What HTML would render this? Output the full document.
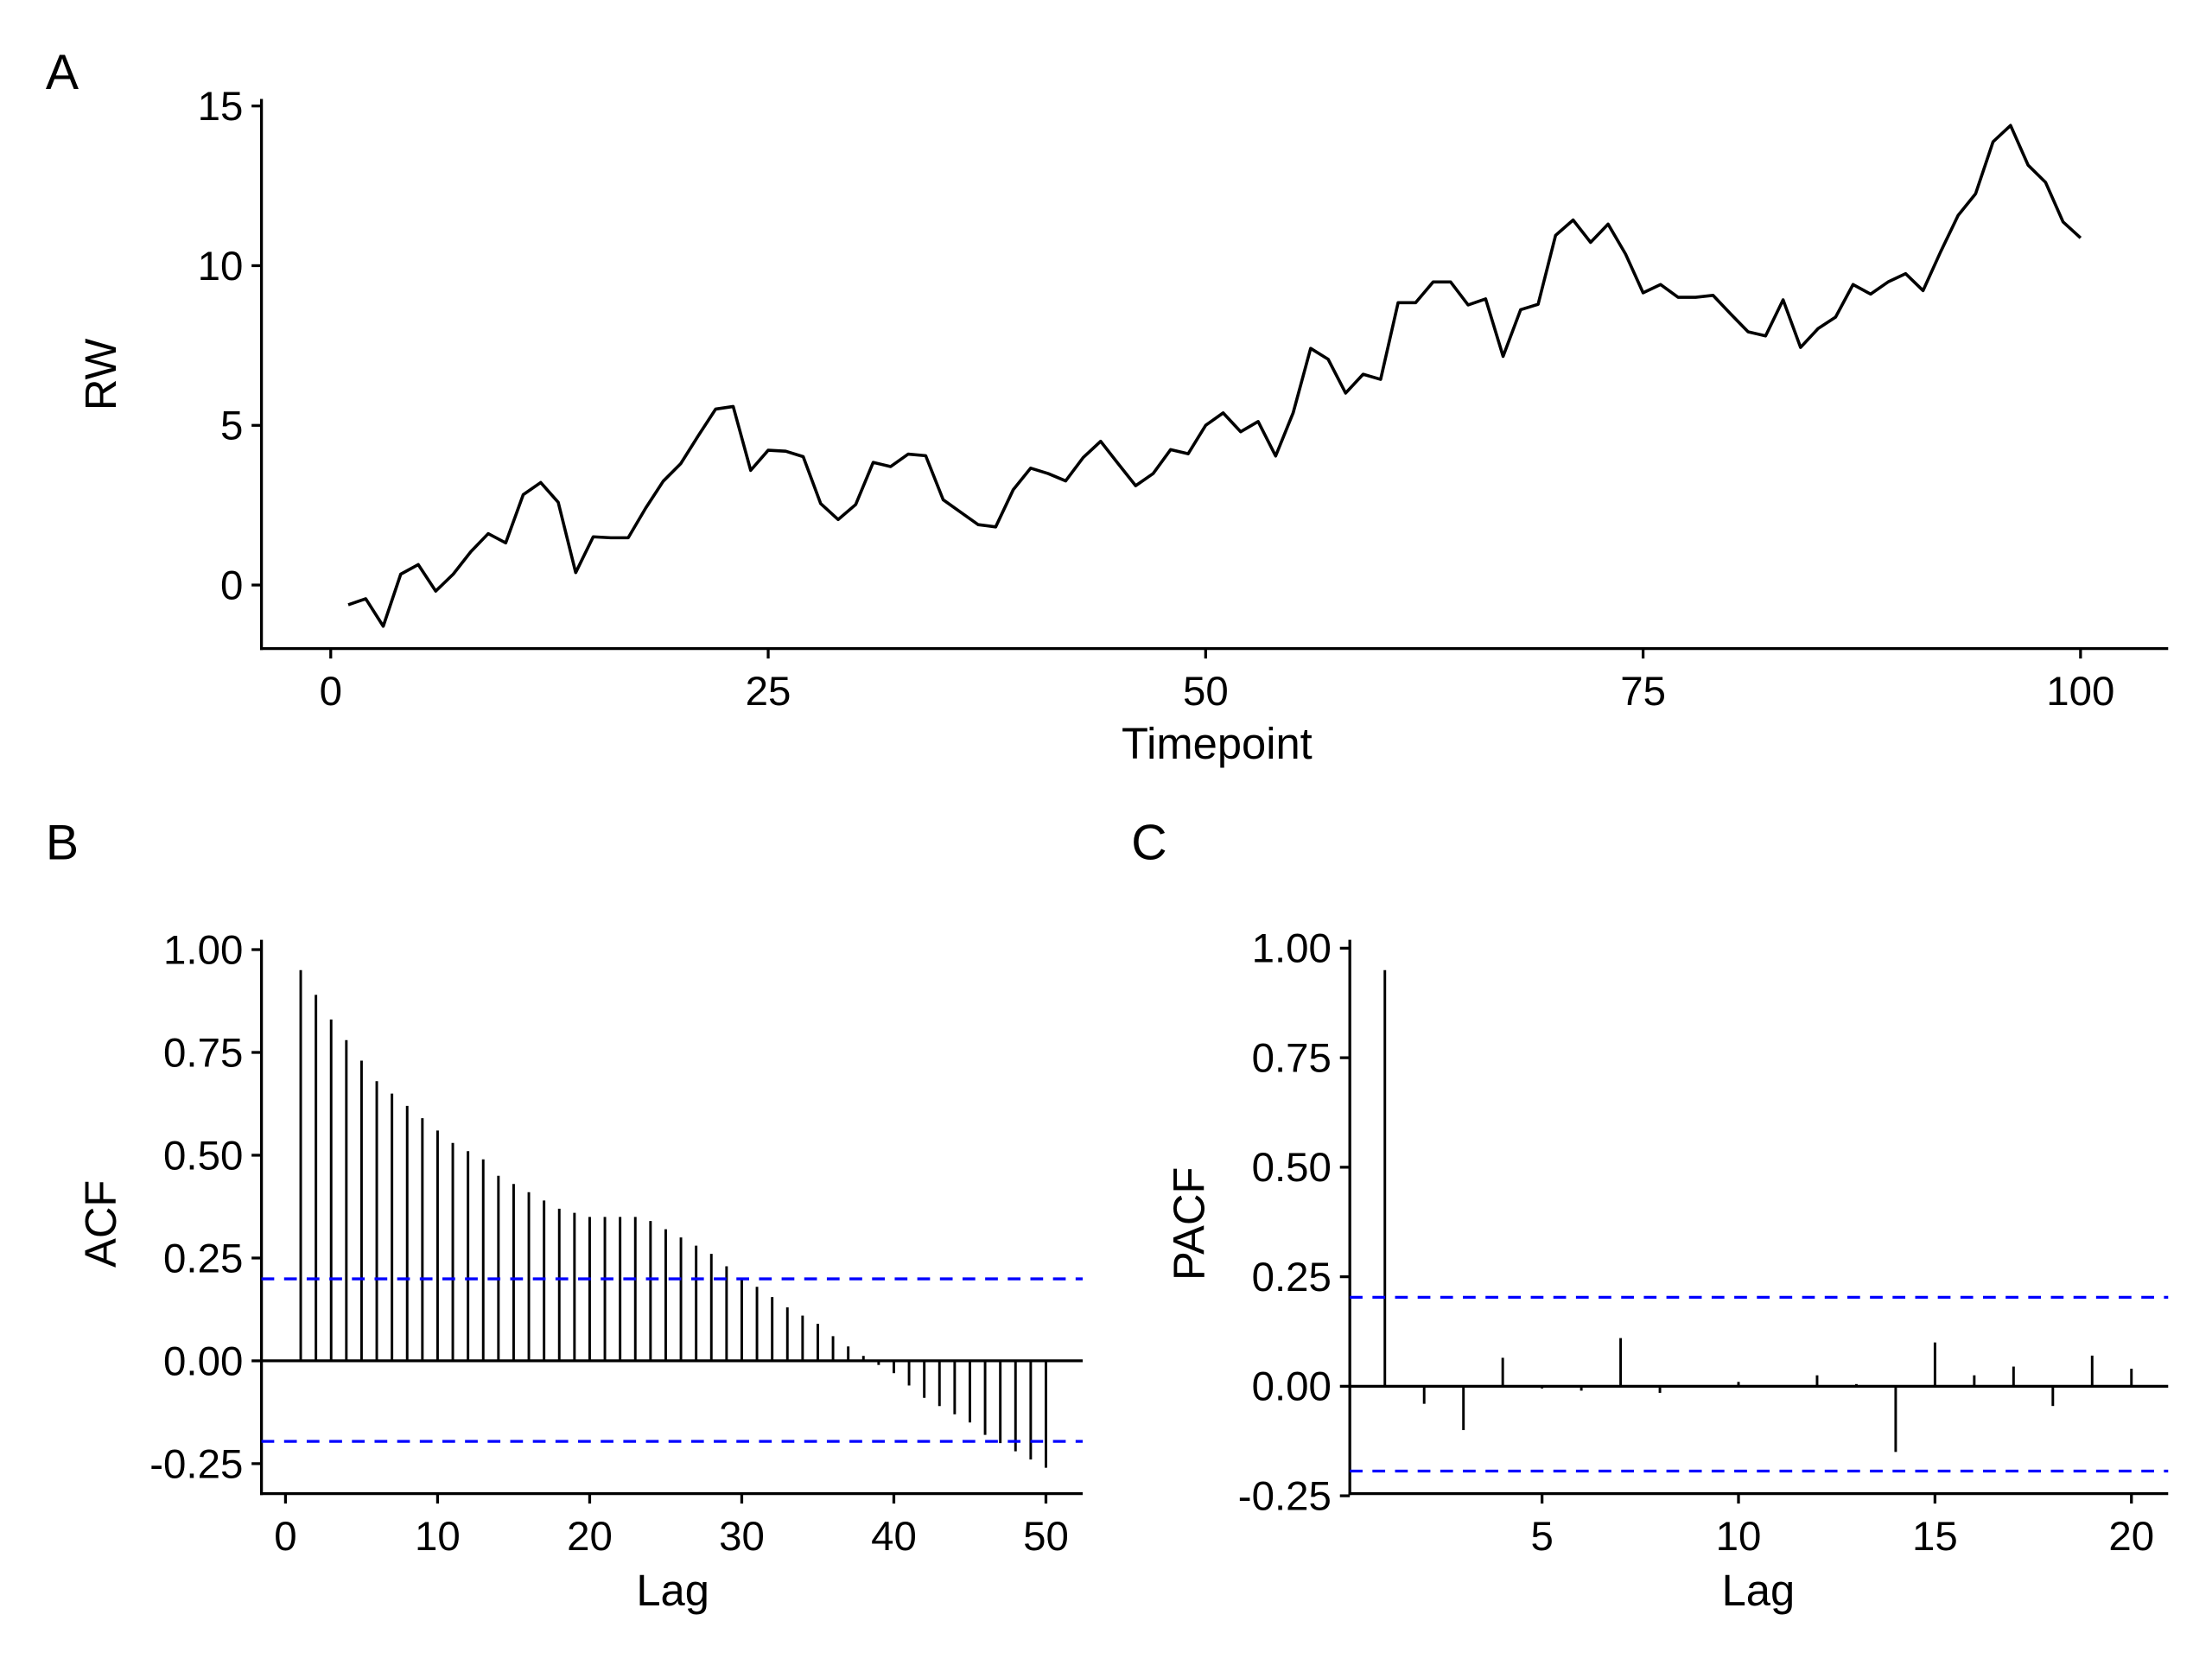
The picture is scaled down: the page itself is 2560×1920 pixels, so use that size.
<!DOCTYPE html>
<html><head><meta charset="utf-8"><style>
html,body{margin:0;padding:0;background:#fff;}
svg{display:block;}
text{font-family:"Liberation Sans",Arial,sans-serif;fill:#000;}
</style></head><body>
<svg id="s" width="2560" height="1920" viewBox="0 0 1565 1174" preserveAspectRatio="none" xmlns="http://www.w3.org/2000/svg">
<rect width="1565" height="1174" fill="#fff"/>
<g id="g"></g>
</svg>
<script>
const NS="http://www.w3.org/2000/svg";const G=document.getElementById('g');
function el(t,a,txt){const e=document.createElementNS(NS,t);for(const k in a)e.setAttribute(k,a[k]);if(txt!==undefined)e.textContent=txt;G.appendChild(e);return e;}
function line(x1,y1,x2,y2,c,w,d){const a={x1,y1,x2,y2,stroke:c||'#000','stroke-width':w||2};if(d)a['stroke-dasharray']=d;el('line',a);}
function txt(x,y,s,sz,anc,extra){const a={x,y,'font-size':sz,'text-anchor':anc||'middle'};Object.assign(a,extra||{});el('text',a,s);}
const TS=29, AS=31;
// Panel A
const rw=[-0.62,-0.43,-1.29,0.34,0.64,-0.19,0.34,1.04,1.61,1.32,2.83,3.21,2.59,0.39,1.51,1.48,1.48,2.41,3.25,3.80,4.67,5.51,5.59,3.59,4.22,4.19,4.02,2.55,2.05,2.52,3.84,3.71,4.10,4.05,2.67,2.28,1.89,1.82,2.98,3.66,3.49,3.26,3.99,4.50,3.80,3.11,3.49,4.24,4.11,5.0,5.39,4.80,5.12,4.04,5.39,7.41,7.07,6.01,6.60,6.44,8.84,8.84,9.49,9.49,8.77,8.96,7.16,8.62,8.79,10.95,11.43,10.73,11.30,10.36,9.15,9.41,9.01,9.01,9.07,8.49,7.93,7.80,8.93,7.44,8.03,8.39,9.41,9.11,9.49,9.75,9.22,10.43,11.57,12.25,13.88,14.39,13.15,12.61,11.37,10.87];
const ax=t=>234+t*12.38, ay=v=>414-v*22.6;
line(185,70,185,460);line(184,459,1534,459);
[0,5,10,15].forEach(v=>{line(178,ay(v),185,ay(v));txt(172,ay(v)+10,String(v),TS,'end');});
[0,25,50,75,100].forEach(t=>{line(ax(t),459,ax(t),466);txt(ax(t),499,String(t),TS);});
el('polyline',{points:rw.map((v,i)=>ax(i+1)+','+ay(v)).join(' '),fill:'none',stroke:'#000','stroke-width':2.2,'stroke-linejoin':'round'});
txt(861,537,'Timepoint',AS);
txt(82,265,'RW',AS,'middle',{transform:'rotate(-90 82 265)'});
txt(44,63,'A',35);
// Panel B
const acf=[0.95,0.89,0.83,0.78,0.73,0.68,0.65,0.62,0.59,0.56,0.53,0.51,0.49,0.45,0.43,0.41,0.39,0.37,0.36,0.35,0.35,0.35,0.35,0.34,0.32,0.30,0.28,0.26,0.23,0.20,0.18,0.155,0.13,0.11,0.09,0.06,0.035,0.012,-0.01,-0.03,-0.06,-0.09,-0.11,-0.13,-0.15,-0.18,-0.20,-0.22,-0.24,-0.26];
const bx=l=>202+l*10.76, by=v=>963-v*291;
line(185,665,185,1058);line(184,1057,766,1057);
[1,0.75,0.5,0.25,0,-0.25].forEach(v=>{line(178,by(v),185,by(v));txt(172,by(v)+10,v.toFixed(2),TS,'end');});
[0,10,20,30,40,50].forEach(t=>{line(bx(t),1057,bx(t),1064);txt(bx(t),1097,String(t),TS);});
acf.forEach((v,i)=>line(bx(i+1),by(0),bx(i+1),by(v),'#000',1.8));
line(185,963,766,963,'#000',2);
line(185,905,766,905,'#0000ff',2,'9,7');line(185,1020,766,1020,'#0000ff',2,'9,7');
txt(476,1136,'Lag',AS);
txt(82,866,'ACF',AS,'middle',{transform:'rotate(-90 82 866)'});
txt(44,608,'B',35);
// Panel C
const pacf=[0.95,-0.04,-0.10,0.065,-0.005,-0.01,0.11,-0.015,0,0.01,0,0.025,0.005,-0.15,0.10,0.025,0.045,-0.045,0.07,0.04];
const cx=l=>952+l*27.8, cy=v=>981-v*310;
line(955,665,955,1058);line(954,1057,1534,1057);
[1,0.75,0.5,0.25,0,-0.25].forEach(v=>{line(948,cy(v),955,cy(v));txt(942,cy(v)+10,v.toFixed(2),TS,'end');});
[5,10,15,20].forEach(t=>{line(cx(t),1057,cx(t),1064);txt(cx(t),1097,String(t),TS);});
pacf.forEach((v,i)=>line(cx(i+1),cy(0),cx(i+1),cy(v),'#000',1.8));
line(955,981,1534,981,'#000',2);
line(955,918,1534,918,'#0000ff',2,'9,7');line(955,1041,1534,1041,'#0000ff',2,'9,7');
txt(1244,1136,'Lag',AS);
txt(852,866,'PACF',AS,'middle',{transform:'rotate(-90 852 866)'});
txt(813,608,'C',35);
</script>
</body></html>
